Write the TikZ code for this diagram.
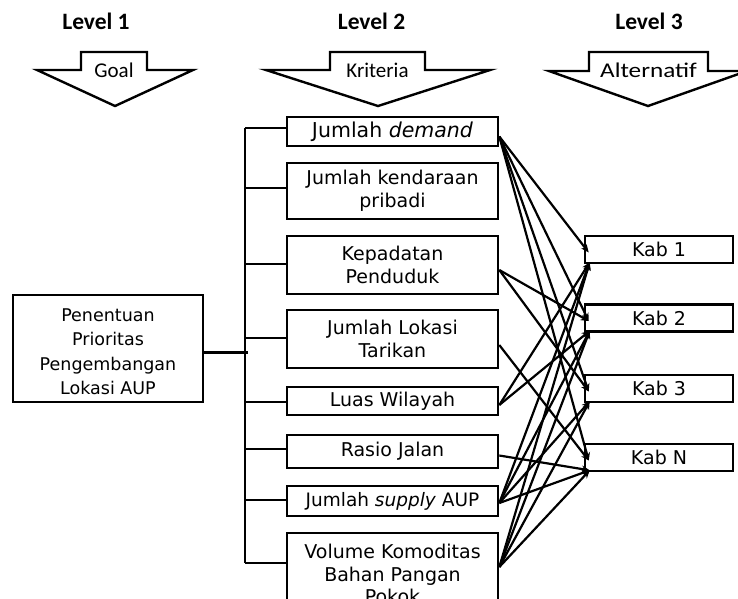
\documentclass[tikz,border=0pt]{standalone}
\usepackage{fontspec}
\setmainfont{DejaVu Sans}
\newfontfamily\calfont{Carlito}
\newfontfamily\calwide[FakeStretch=1.2]{Carlito}
\usetikzlibrary{arrows.meta}
\begin{document}
\begin{tikzpicture}
[x=1pt,y=-1pt,
critnode/.style={rectangle,draw,line width=2.6pt,inner sep=0pt,minimum width=211pt,align=center,font=\fontsize{19}{22.5}\selectfont},
kabnode/.style={rectangle,draw,line width=2.6pt,inner sep=0pt,minimum width=148pt,minimum height=27pt,font=\fontsize{19}{23}\selectfont},
levelnode/.style={anchor=base,font=\calfont\bfseries\fontsize{23.5}{28}\selectfont},
tabnode/.style={anchor=base,font=\calfont\fontsize{21}{24}\selectfont},
blockarrow/.style={draw,line width=2.4pt,line join=miter,fill=white},
link/.style={line width=2.2pt,-{Stealth[length=8pt,width=7pt]}},
bus/.style={line width=2.6pt}]
\useasboundingbox (0,0) rectangle (738,598);
\clip (0,0) rectangle (738,598);

% levels
\node (lev1) at (96,29) [levelnode] {Level 1};
\node (lev2) at (371.5,29) [levelnode] {Level 2};
\node (lev3) at (649,29) [levelnode] {Level 3};

% block arrows
\draw[blockarrow] (37,70) -- (81,70) -- (81,52) -- (147,52) -- (147,70) -- (193,70) -- (115,106) -- cycle;
\draw[blockarrow] (266,70) -- (330,70) -- (330,52) -- (425,52) -- (425,70) -- (490,70) -- (378,106) -- cycle;
\draw[blockarrow] (549,71) -- (589,71) -- (589,52) -- (708,52) -- (708,71) -- (747,71) -- (648,106) -- cycle;
\node (goallab) at (114,77) [tabnode] {Goal};
\node (kritlab) at (377.5,77) [tabnode] {Kriteria};
\node (altlab) at (648.5,77) [tabnode,font=\calwide\fontsize{21}{24}\selectfont] {Alternatif};

% goal
\node (goal) at (108,348.5) [critnode,minimum width=190pt,minimum height=107pt,text height=96pt,text depth=4pt,font=\fontsize{17.5}{24.5}\selectfont] {Penentuan\\Prioritas\\Pengembangan\\Lokasi AUP};

% kriteria
\node (c1) at (392.5,131.5) [critnode,minimum height=29pt,font=\fontsize{20.5}{23}\selectfont] {Jumlah \textit{demand}};
\node (c2) at (392.5,191) [critnode,minimum height=56pt] {Jumlah kendaraan\\pribadi};
\node (c3) at (392.5,265) [critnode,minimum height=58pt] {Kepadatan\\Penduduk};
\node (c4) at (392.5,339) [critnode,minimum height=58pt] {Jumlah Lokasi\\Tarikan};
\node (c5) at (392.5,401) [critnode,minimum height=28pt] {Luas Wilayah};
\node (c6) at (392.5,451.5) [critnode,minimum height=33pt] {Rasio Jalan};
\node (c7) at (392.5,501) [critnode,minimum height=30pt,font=\fontsize{18.5}{23}\selectfont] {Jumlah \textit{supply} AUP};
\node (c8) at (392.5,574) [critnode,minimum height=82pt] {Volume Komoditas\\Bahan Pangan\\Pokok};

% alternatif
\node (k1) at (659,249.5) [kabnode] {Kab 1};
\node (k2) at (659,318) [kabnode] {Kab 2};
\node (k3) at (659,388.5) [kabnode] {Kab 3};
\node (k4) at (659,457.5) [kabnode] {Kab N};

\coordinate (k1a) at ([xshift=5pt,yshift=-3pt]k1.west);
\coordinate (k1b) at ([xshift=6pt,yshift=2pt]k1.south west);
\coordinate (k2a) at ([xshift=5pt,yshift=-3pt]k2.west);
\coordinate (k2b) at ([xshift=6pt,yshift=2pt]k2.south west);
\coordinate (k3a) at ([xshift=5pt,yshift=-3pt]k3.west);
\coordinate (k3b) at ([xshift=6pt,yshift=2pt]k3.south west);
\coordinate (k4a) at ([xshift=5pt,yshift=-3pt]k4.west);
\coordinate (k4b) at ([xshift=6pt,yshift=2pt]k4.south west);

% bus
\coordinate (bustop) at (245,128);
\coordinate (busbot) at (245,563);
\draw[bus] (bustop) -- (busbot);
\draw[bus] ([yshift=-4pt]goal.east) -- ([yshift=-4pt,xshift=3pt]goal.east -| bustop);
\draw[bus] ([yshift=3.5pt]c1.west) -- ([yshift=3.5pt]c1.west -| bustop);
\draw[bus] ([yshift=3pt]c2.west) -- ([yshift=3pt]c2.west -| bustop);
\draw[bus] ([yshift=1pt]c3.west) -- ([yshift=1pt]c3.west -| bustop);
\draw[bus] ([yshift=1pt]c4.west) -- ([yshift=1pt]c4.west -| bustop);
\draw[bus] ([yshift=-1pt]c5.west) -- ([yshift=-1pt]c5.west -| bustop);
\draw[bus] ([yshift=2.5pt]c6.west) -- ([yshift=2.5pt]c6.west -| bustop);
\draw[bus] ([yshift=1pt]c7.west) -- ([yshift=1pt]c7.west -| bustop);
\draw[bus] ([yshift=11pt]c8.west) -- (busbot);

% links
\draw[link] ([yshift=-5pt]c1.east) -- (k1a);
\draw[link] ([yshift=-5pt]c1.east) -- (k2a);
\draw[link] ([yshift=-5pt]c1.east) -- (k3a);
\draw[link] ([yshift=-5pt]c1.east) -- (k4a);
\draw[link] ([yshift=-5pt]c3.east) -- (k2a);
\draw[link] ([yshift=-5pt]c3.east) -- (k3a);
\draw[link] ([yshift=-6pt]c4.east) -- (k4a);
\draw[link] ([yshift=-4pt]c5.east) -- (k1b);
\draw[link] ([yshift=-4pt]c5.east) -- (k2b);
\draw[link] ([yshift=-4pt]c6.east) -- (k4b);
\draw[link] ([yshift=-2pt]c7.east) -- (k1b);
\draw[link] ([yshift=-2pt]c7.east) -- (k2b);
\draw[link] ([yshift=-2pt]c7.east) -- (k3b);
\draw[link] ([yshift=-2pt]c7.east) -- (k4b);
\draw[link] ([yshift=7pt]c8.east) -- (k1b);
\draw[link] ([yshift=7pt]c8.east) -- (k2b);
\draw[link] ([yshift=7pt]c8.east) -- (k3b);
\draw[link] ([yshift=7pt]c8.east) -- (k4b);
\end{tikzpicture}
\end{document}
